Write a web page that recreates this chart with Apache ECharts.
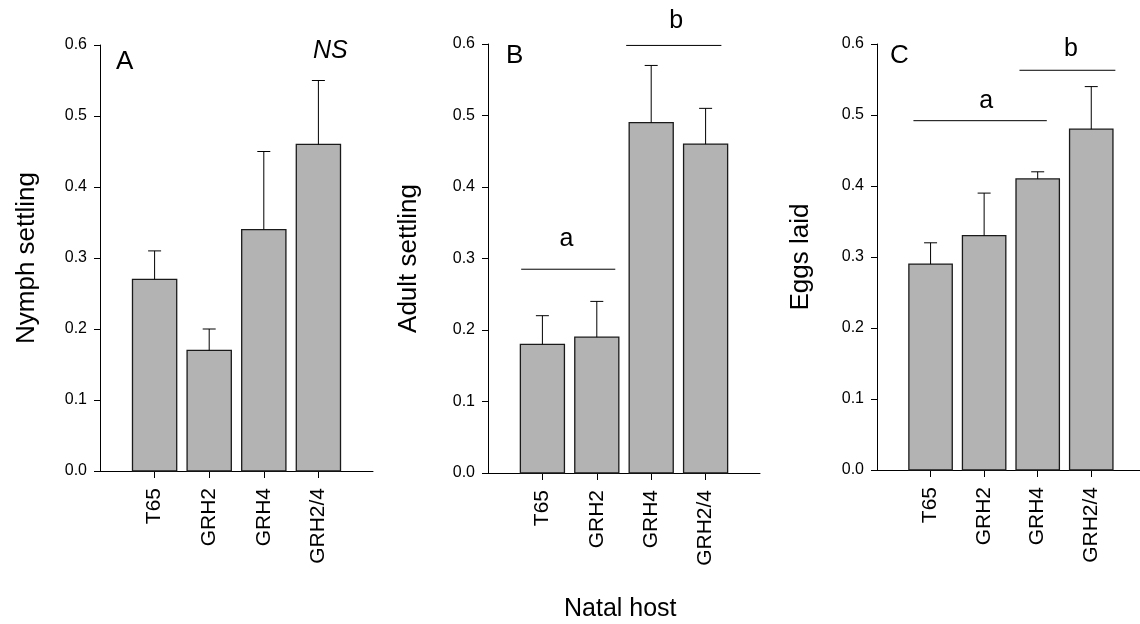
<!DOCTYPE html>
<html>
<head>
<meta charset="utf-8">
<script src="https://cdn.jsdelivr.net/npm/echarts@6/dist/echarts.min.js"></script>
<style>
  html, body { margin: 0; padding: 0; background: #fff; }
  #main { width: 1140px; height: 624px; }
</style>
</head>
<body>
<div id="main"></div>
<script>
// natal host categories
const categories = ['T65', 'GRH2', 'GRH4', 'GRH2/4']
// means and SE (upper error only)
const nymph = [0.27, 0.17, 0.34, 0.46]
const nymphSE = [0.04, 0.03, 0.11, 0.09]
const adult = [0.18, 0.19, 0.49, 0.46]
const adultSE = [0.04, 0.05, 0.08, 0.05]
const eggs = [0.29, 0.33, 0.41, 0.48]
const eggsSE = [0.03, 0.06, 0.01, 0.06]
const yTicks = [0, 0.1, 0.2, 0.3, 0.4, 0.5, 0.6]
// significance groups: [letter, from, to, line value, letter x, letter value]
const sigB = [['a', -0.39, 1.34, 0.285, 0.44, 0.327], ['b', 1.54, 3.29, 0.598, 2.46, 0.632]]
const sigC = [['a', -0.32, 2.17, 0.492, 1.04, 0.52], ['b', 1.66, 3.45, 0.563, 2.62, 0.593]]

const FONT = '"Liberation Sans", Arial, Helvetica, sans-serif'

const panels = [
  { left: 100, top: 45, width: 273, height: 426, xMax: 4, title: 'Nymph settling', gap: 60, mean: nymph, se: nymphSE, sig: [] },
  { left: 488, top: 44, width: 272, height: 429, xMax: 4, title: 'Adult settling', gap: 66, mean: adult, se: adultSE, sig: sigB },
  { left: 877, top: 44, width: 263, height: 426, xMax: 3.91, title: 'Eggs laid', gap: 63, mean: eggs, se: eggsSE, sig: sigC }
]

const renderBar = (params, api) => {
  const i = api.value(0)
  const v = api.value(1)
  const e = api.value(2)
  const base = api.coord([i, 0])
  const top = api.coord([i, v])
  const etop = api.coord([i, v + e])
  const w = api.size([1, 0])[0] * 0.81
  const cap = 6.5
  return {
    type: 'group',
    children: [
      {
        type: 'rect',
        shape: { x: base[0] - w / 2, y: top[1], width: w, height: base[1] - top[1] },
        style: { fill: '#b3b3b3', stroke: '#1a1a1a', lineWidth: 1.3 }
      },
      {
        type: 'line',
        shape: { x1: top[0], y1: top[1], x2: etop[0], y2: etop[1] },
        style: { stroke: '#000', lineWidth: 1 }
      },
      {
        type: 'line',
        shape: { x1: etop[0] - cap, y1: etop[1], x2: etop[0] + cap, y2: etop[1] },
        style: { stroke: '#000', lineWidth: 1 }
      }
    ]
  }
}

const renderSig = (params, api) => {
  const p0 = api.coord([api.value(1), api.value(3)])
  const p1 = api.coord([api.value(2), api.value(3)])
  const pt = api.coord([api.value(4), api.value(5)])
  return {
    type: 'group',
    children: [
      {
        type: 'line',
        shape: { x1: p0[0], y1: p0[1], x2: p1[0], y2: p1[1] },
        style: { stroke: '#000', lineWidth: 1 }
      },
      {
        type: 'text',
        x: pt[0],
        y: pt[1],
        style: {
          text: api.value(0),
          fill: '#000',
          font: '25px ' + FONT,
          align: 'center',
          verticalAlign: 'middle'
        }
      }
    ]
  }
}

const myChart = echarts.init(document.getElementById('main'), null, { renderer: 'canvas' })

let option = {
  backgroundColor: '#fff',
  animation: false,
  textStyle: { fontFamily: FONT },
  grid: [],
  xAxis: [],
  yAxis: [],
  series: [],
  graphic: [
    { type: 'text', left: 116, top: 49, style: { text: 'A', font: '26px ' + FONT, fill: '#000' } },
    { type: 'text', left: 506, top: 43, style: { text: 'B', font: '26px ' + FONT, fill: '#000' } },
    { type: 'text', left: 890, top: 43, style: { text: 'C', font: '26px ' + FONT, fill: '#000' } },
    { type: 'text', left: 313, top: 39, style: { text: 'NS', font: 'italic 25px ' + FONT, fill: '#000' } },
    { type: 'text', left: 564, top: 597, style: { text: 'Natal host', font: '25px ' + FONT, fill: '#000' } }
  ]
}

panels.forEach((p, k) => {
  option.grid.push({
    left: p.left, top: p.top, width: p.width, height: p.height,
    containLabel: false, outerBoundsMode: 'none'
  })
  option.xAxis.push({
    type: 'value',
    gridIndex: k,
    min: -1,
    max: p.xMax,
    splitLine: { show: false },
    axisLine: { show: true, onZero: false, lineStyle: { color: '#000', width: 1 } },
    axisTick: { show: true, length: 7, customValues: [0, 1, 2, 3], lineStyle: { color: '#000' } },
    axisLabel: {
      customValues: [0, 1, 2, 3],
      rotate: 90,
      margin: 17,
      fontSize: 21,
      color: '#000',
      formatter: (v) => categories[Math.round(v)] || ''
    }
  })
  option.yAxis.push({
    type: 'value',
    gridIndex: k,
    min: yTicks[0],
    max: yTicks[yTicks.length - 1],
    interval: 0.1,
    name: p.title,
    nameLocation: 'middle',
    nameGap: p.gap,
    nameTextStyle: { fontSize: 26, color: '#000' },
    splitLine: { show: false },
    axisLine: { show: true, onZero: false, lineStyle: { color: '#000', width: 1 } },
    axisTick: { show: true, length: 6, lineStyle: { color: '#000' } },
    axisLabel: { margin: 13, fontSize: 16, color: '#000', formatter: (v) => v.toFixed(1) }
  })
  option.series.push({
    type: 'custom',
    xAxisIndex: k,
    yAxisIndex: k,
    clip: false,
    renderItem: renderBar,
    data: p.mean.map((m, i) => [i, m, p.se[i]])
  })
  if (p.sig.length) {
    option.series.push({
      type: 'custom',
      xAxisIndex: k,
      yAxisIndex: k,
      clip: false,
      renderItem: renderSig,
      encode: { x: [1, 2, 4], y: [3, 5] },
      data: p.sig
    })
  }
})

myChart.setOption(option)
window.addEventListener('resize', () => {
  myChart.resize()
})
</script>
</body>
</html>
